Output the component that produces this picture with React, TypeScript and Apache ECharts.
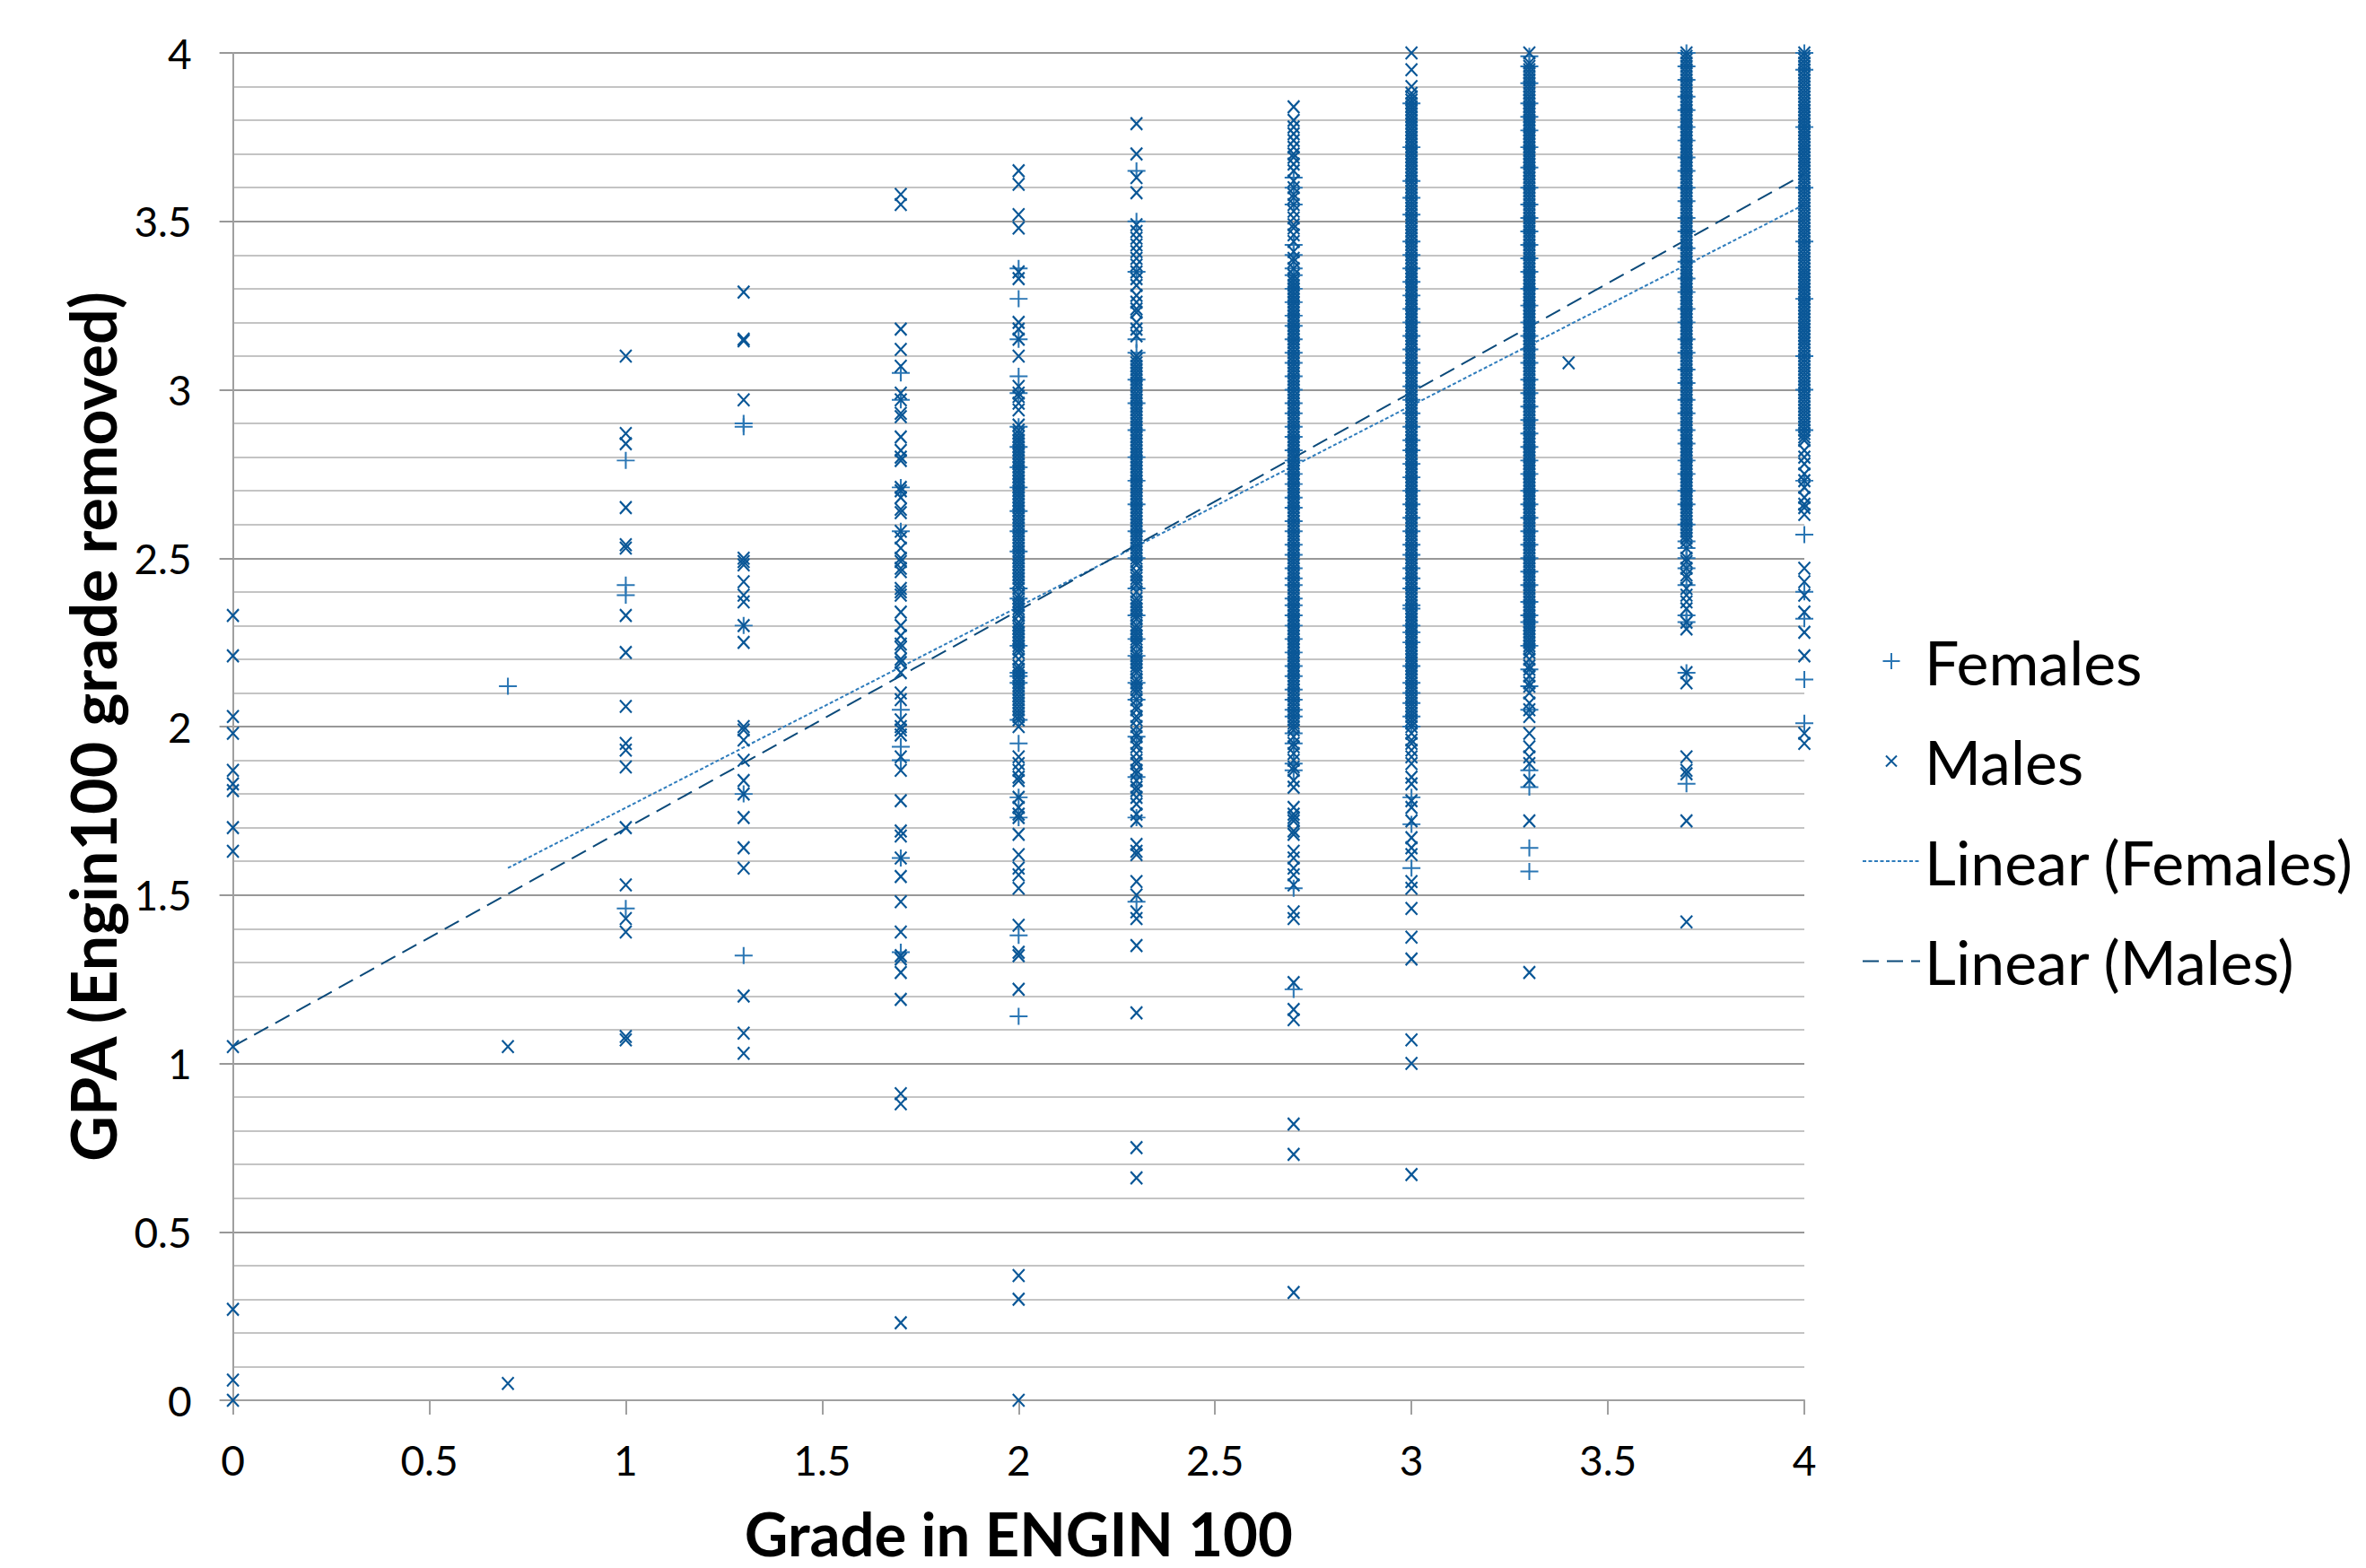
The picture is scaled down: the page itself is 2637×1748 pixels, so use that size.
import React, { useEffect, useRef } from "react";
import * as echarts from "echarts";

const xTicks = { min: 0, max: 4, interval: 0.5 };
const legendNames = ["Females", "Males", "Linear (Females)", "Linear (Males)"];
const xTitle = "Grade in ENGIN 100";
const yTitle = "GPA (Engin100 grade removed)";

const males00 = [2.33, 2.21, 2.03, 1.98, 1.87, 1.83, 1.81, 1.7, 1.63, 1.05, 0.27, 0.06, 0];
const males07 = [1.05, 0.05];
const males10 = [3.1, 2.87, 2.84, 2.65, 2.54, 2.53, 2.33, 2.22, 2.06, 1.95, 1.93, 1.88, 1.7, 1.53, 1.43, 1.39, 1.08, 1.07];
const males13 = [3.29, 3.15, 3.145, 2.97, 2.5, 2.49, 2.48, 2.43, 2.39, 2.37, 2.3, 2.25, 2.0, 1.99, 1.96, 1.9, 1.84, 1.8, 1.73, 1.64, 1.58, 1.2, 1.09, 1.03];
const males17 = [3.58, 3.55, 3.18, 3.12, 3.07, 2.99, 2.97, 2.93, 2.92, 2.86, 2.82, 2.8, 2.79, 2.71, 2.7, 2.68, 2.645, 2.635, 2.58, 2.56, 2.53, 2.5, 2.49, 2.47, 2.46, 2.41, 2.4, 2.39, 2.34, 2.3, 2.27, 2.245, 2.235, 2.2, 2.19, 2.16, 2.1, 2.08, 2.02, 2.0, 1.99, 1.975, 1.91, 1.87, 1.78, 1.69, 1.675, 1.61, 1.555, 1.48, 1.39, 1.32, 1.31, 1.27, 1.19, 0.91, 0.88, 0.23];
const males20 = [3.65, 3.61, 3.52, 3.48, 3.35, 3.33, 3.2, 3.18, 3.15, 3.1, 3.01, 2.99, 2.98, 2.96, 2.94, 2.895, 2.88, 2.87, 2.85, 2.84, 2.82, 2.81, 2.79, 2.78, 2.76, 2.74, 2.73, 2.71, 2.7, 2.68, 2.67, 2.65, 2.63, 2.62, 2.6, 2.59, 2.57, 2.55, 2.54, 2.52, 2.51, 2.49, 2.48, 2.46, 2.44, 2.43, 2.41, 2.39, 2.38, 2.36, 2.34, 2.33, 2.31, 2.3, 2.28, 2.26, 2.25, 2.23, 2.22, 2.2, 2.18, 2.17, 2.15, 2.13, 2.12, 2.1, 2.09, 2.07, 2.05, 2.04, 2.02, 2.0, 1.91, 1.89, 1.87, 1.85, 1.84, 1.79, 1.76, 1.74, 1.73, 1.68, 1.62, 1.58, 1.56, 1.52, 1.41, 1.33, 1.32, 1.22, 0.37, 0.3, 0];
const males20b = [2.86, 2.83, 2.8, 2.77, 2.75, 2.72, 2.69, 2.66, 2.64, 2.61, 2.58, 2.56, 2.53, 2.5, 2.47, 2.45, 2.42, 2.37, 2.35, 2.29, 2.27, 2.24, 2.16, 2.14, 2.11, 2.08, 2.06, 2.03];
const males23 = [3.79, 3.7, 3.63, 3.585, 3.49, 3.47, 3.45, 3.43, 3.41, 3.39, 3.37, 3.35, 3.33, 3.31, 3.28, 3.26, 3.24, 3.23, 3.2, 3.18, 3.16, 3.1, 3.09, 3.07, 3.06, 3.04, 3.02, 3.01, 2.99, 2.98, 2.96, 2.94, 2.93, 2.91, 2.9, 2.88, 2.86, 2.85, 2.83, 2.82, 2.8, 2.78, 2.77, 2.75, 2.74, 2.72, 2.7, 2.69, 2.67, 2.66, 2.64, 2.62, 2.61, 2.59, 2.58, 2.56, 2.54, 2.53, 2.51, 2.5, 2.48, 2.46, 2.45, 2.43, 2.42, 2.4, 2.38, 2.37, 2.35, 2.34, 2.32, 2.3, 2.29, 2.27, 2.26, 2.24, 2.22, 2.21, 2.19, 2.18, 2.16, 2.14, 2.13, 2.11, 2.1, 2.08, 2.06, 2.05, 2.03, 2.02, 2.0, 1.98, 1.97, 1.95, 1.94, 1.92, 1.9, 1.89, 1.87, 1.86, 1.84, 1.82, 1.81, 1.79, 1.77, 1.74, 1.72, 1.65, 1.63, 1.62, 1.54, 1.5, 1.45, 1.43, 1.35, 1.15, 0.75, 0.66];
const males23b = [3.08, 3.05, 3.03, 3.0, 2.97, 2.95, 2.92, 2.89, 2.87, 2.84, 2.81, 2.79, 2.76, 2.73, 2.71, 2.68, 2.65, 2.63, 2.6, 2.57, 2.55, 2.52, 2.49, 2.44, 2.36, 2.33, 2.28, 2.25, 2.2, 2.17, 2.12];
const males27 = [3.84, 3.8, 3.78, 3.76, 3.74, 3.72, 3.7, 3.69, 3.67, 3.65, 3.62, 3.6, 3.58, 3.57, 3.55, 3.53, 3.51, 3.49, 3.48, 3.46, 3.44, 3.41, 3.39, 3.38, 3.36, 3.34, 3.33, 3.31, 3.3, 3.28, 3.27, 3.25, 3.23, 3.22, 3.2, 3.19, 3.17, 3.15, 3.14, 3.12, 3.11, 3.09, 3.07, 3.06, 3.04, 3.03, 3.01, 2.99, 2.98, 2.96, 2.95, 2.93, 2.91, 2.9, 2.88, 2.87, 2.85, 2.83, 2.82, 2.8, 2.79, 2.77, 2.75, 2.74, 2.72, 2.71, 2.69, 2.67, 2.66, 2.64, 2.63, 2.61, 2.59, 2.58, 2.56, 2.55, 2.53, 2.51, 2.5, 2.48, 2.47, 2.45, 2.43, 2.42, 2.4, 2.39, 2.37, 2.35, 2.34, 2.32, 2.31, 2.29, 2.27, 2.26, 2.24, 2.23, 2.21, 2.19, 2.18, 2.16, 2.15, 2.13, 2.11, 2.1, 2.08, 2.07, 2.05, 2.03, 2.02, 2.0, 1.99, 1.97, 1.95, 1.94, 1.92, 1.9, 1.88, 1.87, 1.84, 1.82, 1.76, 1.74, 1.73, 1.72, 1.69, 1.68, 1.63, 1.61, 1.58, 1.56, 1.53, 1.45, 1.43, 1.24, 1.16, 1.13, 0.82, 0.73, 0.32];
const males27b = [3.32, 3.29, 3.26, 3.24, 3.21, 3.18, 3.16, 3.13, 3.1, 3.08, 3.05, 3.02, 3.0, 2.97, 2.94, 2.92, 2.89, 2.86, 2.84, 2.81, 2.78, 2.76, 2.73, 2.7, 2.68, 2.65, 2.62, 2.6, 2.57, 2.54, 2.52, 2.49, 2.46, 2.44, 2.41, 2.38, 2.36, 2.33, 2.3, 2.28, 2.25, 2.22, 2.2, 2.17, 2.14, 2.12, 2.09, 2.06, 2.04, 2.01];
const males30 = [4.0, 3.95, 3.9, 3.88, 3.86, 3.84, 3.83, 3.81, 3.79, 3.77, 3.76, 3.74, 3.73, 3.71, 3.7, 3.68, 3.67, 3.65, 3.64, 3.62, 3.6, 3.59, 3.57, 3.56, 3.54, 3.53, 3.51, 3.5, 3.48, 3.46, 3.45, 3.43, 3.42, 3.4, 3.39, 3.37, 3.35, 3.34, 3.32, 3.31, 3.29, 3.28, 3.26, 3.24, 3.23, 3.21, 3.2, 3.18, 3.17, 3.15, 3.13, 3.12, 3.1, 3.09, 3.07, 3.06, 3.04, 3.02, 3.01, 2.99, 2.98, 2.96, 2.95, 2.93, 2.91, 2.9, 2.88, 2.87, 2.85, 2.84, 2.82, 2.8, 2.79, 2.77, 2.76, 2.74, 2.73, 2.71, 2.69, 2.68, 2.66, 2.65, 2.63, 2.62, 2.6, 2.58, 2.57, 2.55, 2.54, 2.52, 2.51, 2.49, 2.47, 2.46, 2.44, 2.43, 2.41, 2.4, 2.38, 2.36, 2.35, 2.33, 2.32, 2.3, 2.29, 2.27, 2.25, 2.24, 2.22, 2.21, 2.19, 2.18, 2.16, 2.14, 2.13, 2.11, 2.1, 2.08, 2.07, 2.05, 2.03, 2.02, 2.0, 1.98, 1.96, 1.95, 1.93, 1.91, 1.89, 1.85, 1.83, 1.78, 1.76, 1.72, 1.67, 1.64, 1.62, 1.54, 1.52, 1.46, 1.375, 1.31, 1.07, 1.0, 0.67];
const males30b = [3.87, 3.85, 3.82, 3.8, 3.78, 3.75, 3.72, 3.69, 3.66, 3.63, 3.61, 3.58, 3.55, 3.52, 3.49, 3.47, 3.44, 3.41, 3.38, 3.36, 3.33, 3.3, 3.27, 3.25, 3.22, 3.19, 3.16, 3.14, 3.11, 3.08, 3.05, 3.03, 3.0, 2.97, 2.94, 2.92, 2.89, 2.86, 2.83, 2.81, 2.78, 2.75, 2.72, 2.7, 2.67, 2.64, 2.61, 2.59, 2.56, 2.53, 2.5, 2.48, 2.45, 2.42, 2.39, 2.37, 2.34, 2.31, 2.28, 2.26, 2.23, 2.2, 2.17, 2.15, 2.12, 2.09, 2.06, 2.04, 2.01];
const males33 = [4.0, 3.97, 3.95, 3.94, 3.92, 3.91, 3.89, 3.87, 3.86, 3.84, 3.83, 3.81, 3.79, 3.78, 3.76, 3.75, 3.73, 3.71, 3.7, 3.68, 3.67, 3.65, 3.63, 3.62, 3.6, 3.59, 3.57, 3.55, 3.54, 3.52, 3.51, 3.49, 3.47, 3.46, 3.44, 3.43, 3.41, 3.39, 3.38, 3.36, 3.35, 3.33, 3.31, 3.3, 3.28, 3.27, 3.25, 3.23, 3.22, 3.2, 3.19, 3.17, 3.15, 3.14, 3.12, 3.11, 3.09, 3.07, 3.06, 3.04, 3.03, 3.01, 2.99, 2.98, 2.96, 2.95, 2.93, 2.91, 2.9, 2.88, 2.87, 2.85, 2.83, 2.82, 2.8, 2.79, 2.77, 2.75, 2.74, 2.72, 2.71, 2.69, 2.67, 2.66, 2.64, 2.63, 2.61, 2.59, 2.58, 2.56, 2.55, 2.53, 2.51, 2.5, 2.48, 2.47, 2.45, 2.43, 2.42, 2.4, 2.39, 2.37, 2.36, 2.33, 2.31, 2.3, 2.29, 2.28, 2.26, 2.25, 2.24, 2.2, 2.18, 2.17, 2.15, 2.13, 2.12, 2.1, 2.07, 2.05, 2.03, 1.98, 1.94, 1.91, 1.89, 1.84, 1.72, 1.27];
const males33b = [3.96, 3.93, 3.9, 3.88, 3.85, 3.82, 3.8, 3.77, 3.74, 3.72, 3.69, 3.66, 3.64, 3.61, 3.58, 3.56, 3.53, 3.5, 3.48, 3.45, 3.42, 3.4, 3.37, 3.34, 3.32, 3.29, 3.26, 3.24, 3.21, 3.18, 3.16, 3.13, 3.1, 3.08, 3.05, 3.02, 3.0, 2.97, 2.94, 2.92, 2.89, 2.86, 2.84, 2.81, 2.78, 2.76, 2.73, 2.7, 2.68, 2.65, 2.62, 2.6, 2.57, 2.54, 2.52, 2.49, 2.46, 2.44, 2.41, 2.38, 2.35, 2.34, 2.32, 2.27, 2.23, 2.22];
const males34 = [3.08];
const males37 = [4.0, 3.98, 3.97, 3.95, 3.94, 3.92, 3.9, 3.89, 3.87, 3.86, 3.84, 3.82, 3.81, 3.79, 3.78, 3.76, 3.74, 3.73, 3.71, 3.7, 3.68, 3.66, 3.65, 3.63, 3.62, 3.6, 3.58, 3.57, 3.55, 3.54, 3.52, 3.5, 3.49, 3.47, 3.46, 3.44, 3.42, 3.41, 3.39, 3.38, 3.36, 3.34, 3.33, 3.31, 3.3, 3.28, 3.26, 3.25, 3.23, 3.22, 3.2, 3.18, 3.17, 3.15, 3.14, 3.12, 3.1, 3.09, 3.07, 3.06, 3.04, 3.02, 3.01, 2.99, 2.98, 2.96, 2.94, 2.93, 2.91, 2.9, 2.88, 2.86, 2.85, 2.83, 2.82, 2.8, 2.78, 2.77, 2.75, 2.74, 2.72, 2.7, 2.69, 2.67, 2.66, 2.64, 2.62, 2.61, 2.58, 2.56, 2.53, 2.5, 2.49, 2.47, 2.45, 2.44, 2.41, 2.39, 2.37, 2.35, 2.31, 2.29, 2.16, 2.13, 1.91, 1.87, 1.86, 1.72, 1.42];
const males37b = [3.99, 3.96, 3.93, 3.91, 3.88, 3.85, 3.83, 3.8, 3.77, 3.75, 3.72, 3.69, 3.67, 3.64, 3.61, 3.59, 3.56, 3.53, 3.51, 3.48, 3.45, 3.43, 3.4, 3.37, 3.35, 3.32, 3.29, 3.27, 3.24, 3.21, 3.19, 3.16, 3.13, 3.11, 3.08, 3.05, 3.03, 3.0, 2.97, 2.95, 2.92, 2.89, 2.87, 2.84, 2.81, 2.79, 2.76, 2.73, 2.71, 2.68, 2.65, 2.63, 2.6, 2.59, 2.57, 2.55];
const males40 = [4.0, 3.99, 3.97, 3.96, 3.94, 3.93, 3.91, 3.89, 3.88, 3.86, 3.85, 3.83, 3.81, 3.8, 3.78, 3.77, 3.75, 3.73, 3.72, 3.7, 3.69, 3.67, 3.65, 3.64, 3.62, 3.61, 3.59, 3.57, 3.56, 3.54, 3.53, 3.51, 3.49, 3.48, 3.46, 3.45, 3.43, 3.41, 3.4, 3.38, 3.37, 3.35, 3.33, 3.32, 3.3, 3.29, 3.27, 3.25, 3.24, 3.22, 3.21, 3.19, 3.17, 3.16, 3.14, 3.13, 3.11, 3.09, 3.08, 3.06, 3.03, 3.01, 2.99, 2.97, 2.95, 2.93, 2.9, 2.88, 2.86, 2.85, 2.82, 2.8, 2.78, 2.75, 2.73, 2.71, 2.68, 2.66, 2.65, 2.63, 2.47, 2.43, 2.39, 2.34, 2.28, 2.21, 1.98, 1.95];
const males40b = [3.98, 3.95, 3.92, 3.9, 3.87, 3.84, 3.82, 3.79, 3.76, 3.74, 3.71, 3.68, 3.66, 3.63, 3.6, 3.58, 3.55, 3.52, 3.5, 3.47, 3.44, 3.42, 3.39, 3.36, 3.34, 3.31, 3.28, 3.26, 3.23, 3.2, 3.18, 3.15, 3.12, 3.1, 3.07, 3.05, 3.04, 3.02, 3.0, 2.98, 2.96, 2.94, 2.92, 2.91, 2.89, 2.87];

const females07 = [2.12];
const females10 = [2.79, 2.42, 2.39, 1.46];
const females13 = [2.9, 2.89, 2.3, 1.8, 1.32];
const females17 = [3.05, 2.97, 2.71, 2.58, 2.05, 1.94, 1.9, 1.61, 1.33];
const females20 = [3.36, 3.27, 3.15, 3.04, 2.99, 2.89, 2.83, 2.77, 2.71, 2.64, 2.58, 2.52, 2.41, 2.38, 2.24, 2.16, 2.15, 2.13, 2.02, 1.95, 1.79, 1.73, 1.38, 1.14];
const females23 = [3.65, 3.5, 3.35, 3.15, 3.11, 3.03, 2.96, 2.88, 2.8, 2.73, 2.66, 2.58, 2.5, 2.41, 2.33, 2.26, 2.21, 2.13, 2.08, 1.97, 1.85, 1.73, 1.48];
const females27 = [3.63, 3.6, 3.55, 3.43, 3.4, 3.36, 3.3, 3.22, 3.15, 3.08, 3.0, 2.93, 2.86, 2.79, 2.72, 2.65, 2.58, 2.51, 2.47, 2.42, 2.38, 2.36, 2.3, 2.22, 2.15, 2.08, 2.03, 1.95, 1.89, 1.87, 1.52, 1.22];
const females27b = [3.34, 3.26, 3.19, 3.11, 3.04, 2.96, 2.89, 2.82, 2.75, 2.68, 2.61, 2.54, 2.44, 2.33, 2.26, 2.18, 2.11, 2.05, 1.98];
const females30 = [3.85, 3.57, 3.52, 3.4, 3.32, 3.24, 3.16, 3.08, 3.01, 2.93, 2.85, 2.78, 2.7, 2.62, 2.54, 2.47, 2.41, 2.36, 2.35, 2.3, 2.25, 2.13, 2.1, 2.03, 1.79, 1.71, 1.58];
const females30b = [3.72, 3.62, 3.44, 3.36, 3.28, 3.2, 3.12, 3.05, 2.97, 2.89, 2.82, 2.74, 2.66, 2.58, 2.51, 2.44, 2.28, 2.18, 2.07, 2.0];
const females33 = [3.99, 3.96, 3.85, 3.77, 3.66, 3.55, 3.47, 3.39, 3.3, 3.2, 3.12, 3.03, 2.95, 2.87, 2.79, 2.7, 2.62, 2.54, 2.46, 2.37, 2.33, 2.31, 2.24, 2.17, 2.12, 2.05, 1.87, 1.82, 1.64, 1.57];
const females33b = [3.91, 3.81, 3.72, 3.6, 3.51, 3.43, 3.35, 3.25, 3.16, 3.08, 2.99, 2.91, 2.83, 2.75, 2.66, 2.58, 2.5, 2.42];
const females37 = [4.0, 3.92, 3.83, 3.74, 3.65, 3.56, 3.47, 3.38, 3.29, 3.2, 3.11, 3.02, 2.93, 2.84, 2.75, 2.66, 2.55, 2.53, 2.5, 2.47, 2.42, 2.33, 2.31, 2.16, 1.83];
const females37b = [3.96, 3.87, 3.78, 3.69, 3.6, 3.51, 3.42, 3.33, 3.24, 3.15, 3.06, 2.97, 2.88, 2.79, 2.7, 2.6];
const females40 = [4.0, 3.95, 3.78, 3.6, 3.44, 3.27, 3.1, 3.0, 2.88, 2.73, 2.57, 2.4, 2.32, 2.14, 2.01];

const trendFemaleX = [0.7, 4];
const trendFemaleY = [1.58, 3.55];
const trendMaleX = [0, 4];
const trendMaleY = [1.05, 3.64];

const malesByGrade: [number, number[]][] = [
  [0, males00], [0.7, males07], [1, males10], [1.3, males13], [1.7, males17], [2, males20], [2, males20b],
  [2.3, males23], [2.3, males23b], [2.7, males27], [2.7, males27b], [3, males30], [3, males30b],
  [3.3, males33], [3.3, males33b], [3.4, males34], [3.7, males37], [3.7, males37b], [4, males40], [4, males40b],
];
const femalesByGrade: [number, number[]][] = [
  [0.7, females07], [1, females10], [1.3, females13], [1.7, females17], [2, females20],
  [2.3, females23], [2.7, females27], [2.7, females27b], [3, females30], [3, females30b],
  [3.3, females33], [3.3, females33b], [3.7, females37], [3.7, females37b], [4, females40],
];
const toPoints = (groups: [number, number[]][]) =>
  groups.flatMap(([g, vals]) => vals.map((v) => [g, v]));
const zip = (xs: number[], ys: number[]) => xs.map((x, i) => [x, ys[i]]);

const FONT = "Lato";
const MALE = "#0a5797";
const FEMALE = "#2a76b4";
const hiddenSymbol = { color: "transparent", borderColor: "transparent", borderWidth: 0 };

export default function App() {
  const ref = useRef<HTMLDivElement>(null);
  useEffect(() => {
    document.body.style.margin = "0";
    document.body.style.overflow = "hidden";
    const chart = echarts.init(ref.current!, null, { renderer: "svg" });
    chart.setOption({
      animation: false,
      backgroundColor: "#ffffff",
      textStyle: { fontFamily: FONT },
      grid: { left: 259.6, top: 59, right: 626, bottom: 187, containLabel: false, outerBoundsMode: "none" },
      xAxis: {
        type: "value",
        ...xTicks,
        name: xTitle,
        nameLocation: "middle",
        nameGap: 118,
        nameTextStyle: { fontSize: 67, lineHeight: 60, fontWeight: "bold", color: "#000", fontFamily: FONT },
        axisLine: { show: true, lineStyle: { color: "#a0a0a0", width: 2 } },
        axisTick: { show: true, length: 16, lineStyle: { color: "#a0a0a0", width: 2 } },
        axisLabel: { fontSize: 46, color: "#000", margin: 43, fontFamily: FONT },
        splitLine: { show: false },
      },
      yAxis: {
        type: "value",
        min: 0,
        max: 4,
        interval: 0.5,
        name: yTitle,
        nameLocation: "middle",
        nameRotate: 90,
        nameGap: 121,
        nameTextStyle: { fontSize: 70, fontWeight: "bold", color: "#000", fontFamily: FONT },
        axisLine: { show: true, lineStyle: { color: "#a0a0a0", width: 2 } },
        axisTick: { show: true, length: 15, lineStyle: { color: "#989898", width: 2 } },
        axisLabel: { fontSize: 46, color: "#000", margin: 46, padding: [7, 0, 0, 0], fontFamily: FONT },
        splitLine: { show: true, lineStyle: { color: "#989898", width: 2 } },
        minorTick: { show: false, splitNumber: 5 },
        minorSplitLine: { show: true, lineStyle: { color: "#c4c4c4", width: 2 } },
      },
      legend: {
        orient: "vertical",
        left: 2075,
        top: 698,
        padding: 0,
        itemWidth: 64,
        itemHeight: 40,
        itemGap: 33.5,
        textStyle: { fontSize: 68, lineHeight: 68, padding: [10, 0, 0, 0], color: "#000", fontFamily: FONT },
        data: [
          { name: legendNames[0], icon: "path://M0 0M64 40M32 11L32 29M22.5 20L41.5 20" },
          { name: legendNames[1], icon: "path://M0 0M64 40M26 14L38 26M38 14L26 26" },
          { name: legendNames[2], itemStyle: hiddenSymbol },
          { name: legendNames[3], itemStyle: hiddenSymbol },
        ],
      },
      series: [
        {
          name: legendNames[0],
          type: "scatter",
          z: 3,
          clip: false,
          symbol: "path://M10 0L10 19M0 9.5L20 9.5",
          symbolSize: [20, 19],
          itemStyle: { color: "transparent", borderColor: FEMALE, borderWidth: 2, opacity: 1 },
          data: toPoints(femalesByGrade),
        },
        {
          name: legendNames[1],
          type: "scatter",
          z: 4,
          clip: false,
          symbol: "path://M0 0L13 14M13 0L0 14",
          symbolSize: [13, 14],
          itemStyle: { color: "transparent", borderColor: MALE, borderWidth: 2.2, opacity: 1 },
          data: toPoints(malesByGrade),
        },
        {
          name: legendNames[2],
          type: "line",
          z: 2,
          symbol: "none",
          lineStyle: { color: "#2e7cbc", width: 2, type: [4, 2.5] },
          itemStyle: { color: "#2e7cbc" },
          data: zip(trendFemaleX, trendFemaleY),
        },
        {
          name: legendNames[3],
          type: "line",
          z: 2,
          symbol: "none",
          lineStyle: { color: "#0b4a7a", width: 2, type: [18, 9] },
          itemStyle: { color: "#0b4a7a" },
          data: zip(trendMaleX, trendMaleY),
        },
      ],
    });
    return () => chart.dispose();
  }, []);
  return <div ref={ref} style={{ width: 2637, height: 1748 }} />;
}
